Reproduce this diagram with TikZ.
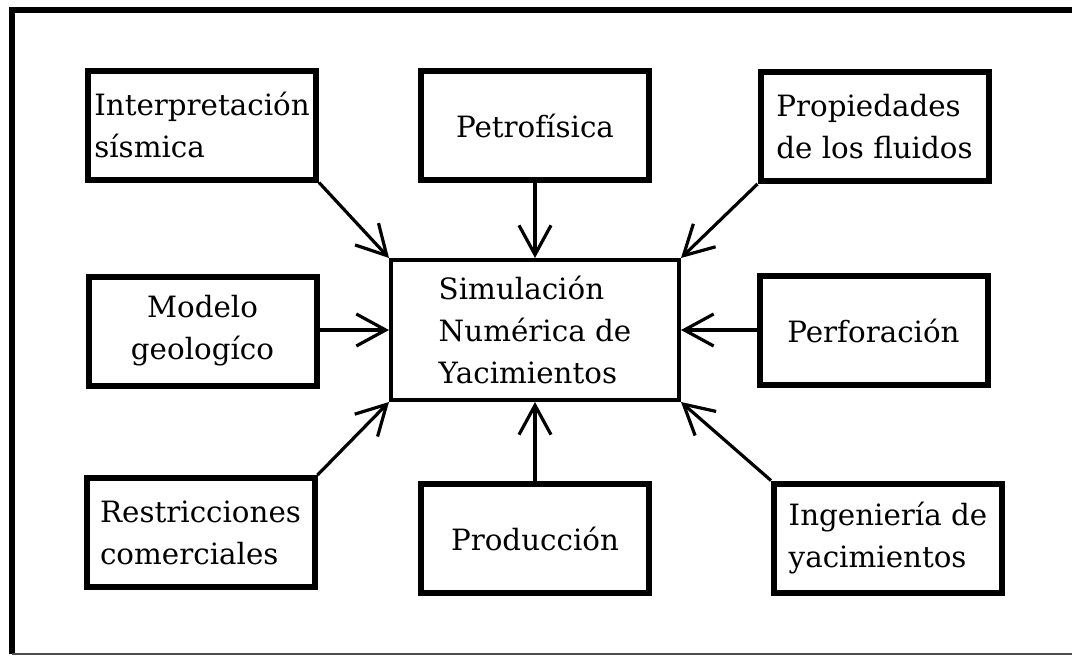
\documentclass[tikz,border=0pt]{standalone}
\usepackage{fontspec}
\setmainfont{DejaVu Serif}
\usetikzlibrary{arrows.meta}
\begin{document}
\begin{tikzpicture}[x=0.75pt,y=-0.75pt,
  box/.style={draw, line width=4.5pt, minimum width=171pt, minimum height=81.75pt,
    inner sep=0pt, align=left, font=\fontsize{22}{31.5}\selectfont},
  mainbox/.style={draw, line width=3pt, minimum width=216pt, minimum height=105pt,
    inner sep=0pt, align=left, font=\fontsize{22}{31.5}\selectfont},
  conn/.style={line width=2.4pt, -{Straight Barb[length=22pt,width=24pt]}},
  frameline/.style={line width=4.5pt}]
\useasboundingbox (0,0) rectangle (1072,657);
% frame
\draw[frameline] (1072,10) -- (12,10) -- (12,654);
\draw[line width=1.5pt, black!70] (12,654) -- (1072,654);
% nodes
\node[mainbox] (C) at (535,330) {Simulación\\Numérica de\\Yacimientos};
\node[box] (I) at (202,125) {Interpretación\\sísmica};
\node[box] (P) at (535,125.5) {Petrofísica};
\node[box] (F) at (874.5,126.5) {Propiedades\\de los fluidos};
\node[box, align=center] (M) at (202.5,331) {Modelo\\geologíco};
\node[box] (D) at (873.5,330.5) {Perforación};
\node[box] (R) at (200.5,532.5) {Restricciones\\comerciales};
\node[box] (Q) at (535,538.5) {Producción};
\node[box] (Y) at (888,538) {Ingeniería de\\yacimientos};
% connectors
\draw[conn] (I.south east) -- (C.north west);
\draw[conn] (P.south) -- (P.south |- C.north);
\draw[conn] (F.south west) -- (C.north east);
\draw[conn] (M.east |- C.west) -- (C.west);
\draw[conn] (D.west |- C.east) -- (C.east);
\draw[conn] (R.north east) -- (C.south west);
\draw[conn] (Q.north) -- (Q.north |- C.south);
\draw[conn] (Y.north west) -- (C.south east);
\end{tikzpicture}
\end{document}
